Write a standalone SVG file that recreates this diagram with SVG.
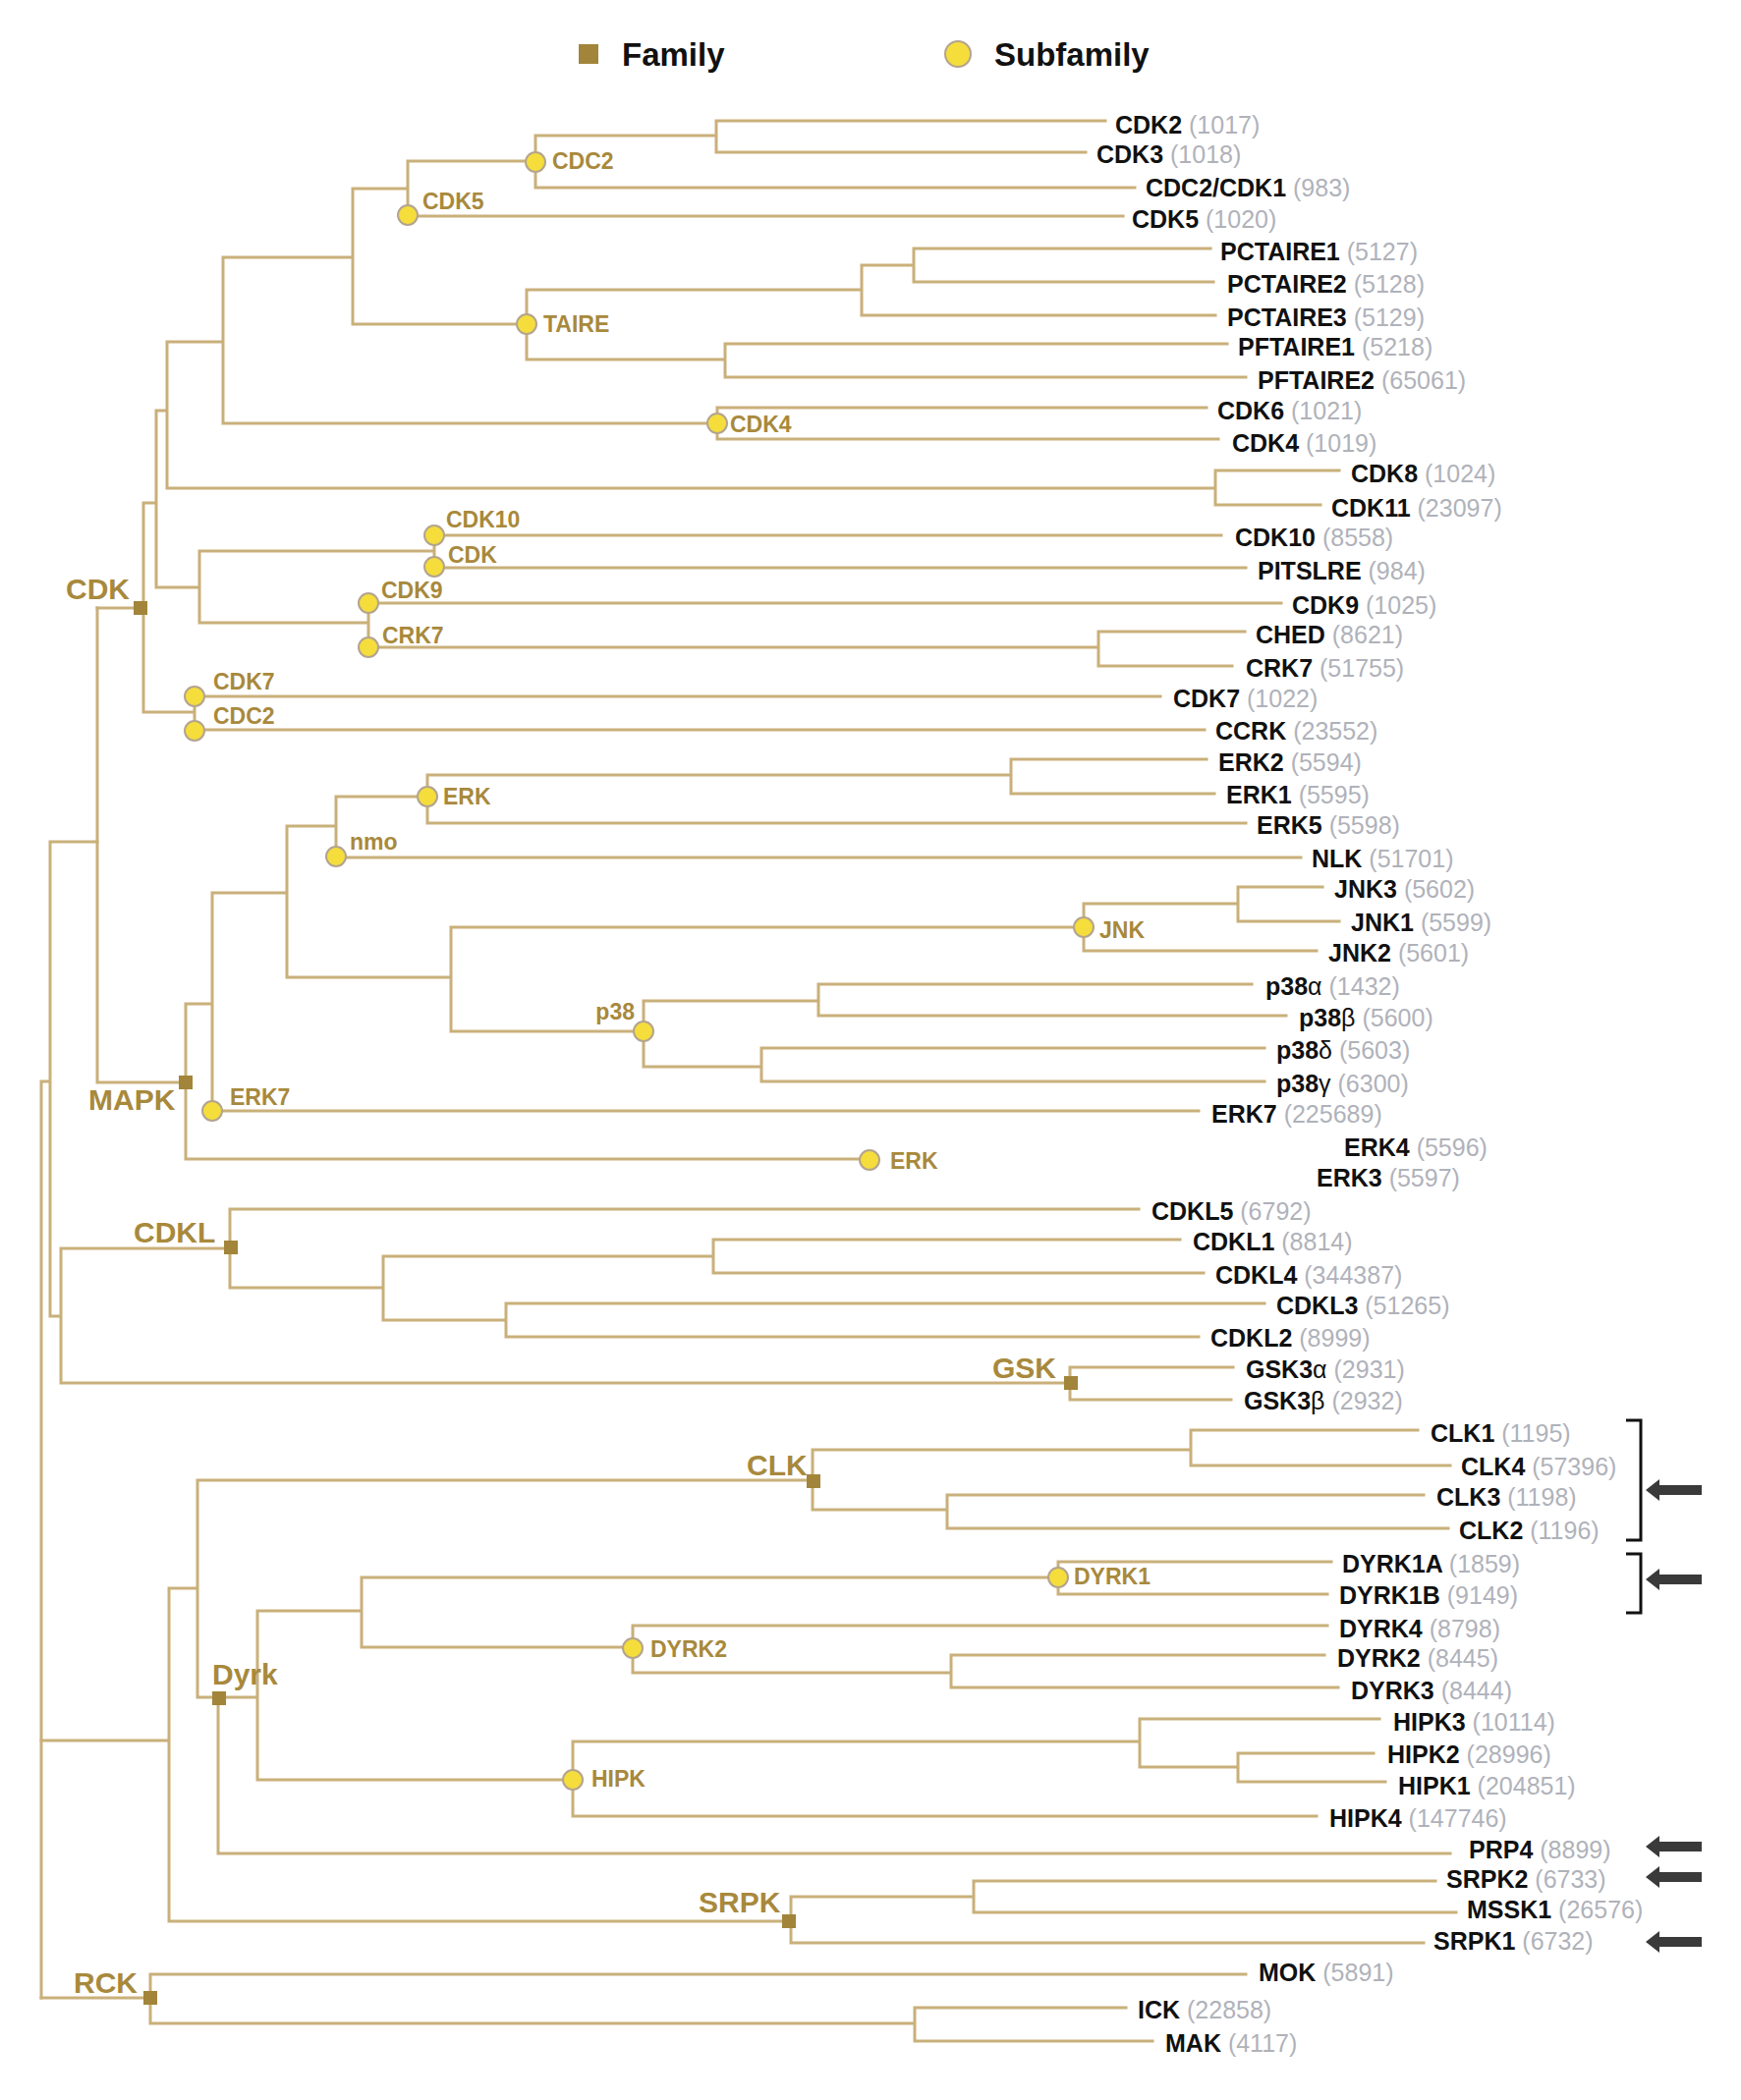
<svg xmlns="http://www.w3.org/2000/svg" width="1772" height="2138" viewBox="0 0 1772 2138">
<style>
.ln{stroke:#c9b07a;stroke-width:3;fill:none;stroke-linecap:square}
.sq{fill:#a2853a}
.ci{fill:#f5dd3c;stroke:#b3a48f;stroke-width:2}
.fl{font-family:"Liberation Sans",Arial,sans-serif;font-size:30px;font-weight:bold;fill:#a8893c}
.sl{font-family:"Liberation Sans",Arial,sans-serif;font-size:23px;font-weight:bold;fill:#a8893c}
.lf{font-family:"Liberation Sans",Arial,sans-serif;font-size:25px;font-weight:bold;fill:#111}
.nm{font-weight:normal;fill:#b0b2ba}
.gk{font-weight:normal}
.lg{font-family:"Liberation Sans",Arial,sans-serif;font-size:33px;font-weight:bold;fill:#111}
.ar{fill:#3a3a3a}
.br{stroke:#111;stroke-width:3;fill:none}
</style>
<rect width="1772" height="2138" fill="#fff"/>
<g id="legend">
<rect class="sq" x="589" y="45" width="20" height="20"/>
<text class="lg" x="633" y="67">Family</text>
<circle class="ci" cx="975" cy="55" r="13"/>
<text class="lg" x="1012" y="67">Subfamily</text>
</g>
<g id="connectors">
<path class="ln" d="M729 123V155M729 123H1125M729 155H1105M545 138H729M545 138V191M545 191H1155M415 164H545M415 164V220M415 220H1143M359 192H415M359 192V330M359 330H536M536 295V366M536 295H877M877 270V321M877 270H930M930 253V287M930 253H1232M930 287H1235M877 321H1237M536 366H738M738 350V384M738 350H1249M738 384H1268M227 262H359M227 262V431M227 431H730M730 415V447M730 415H1228M730 447H1240M170 348H227M170 348V497M170 497H1237M1237 479V514M1237 479H1363M1237 514H1344M159 418H170M159 418V598M159 598H203M203 561V634M203 561H442M442 545V578M442 545H1243M442 578H1268M203 634H375M375 614V659M375 614H1304M375 659H1118M1118 643V678M1118 643H1267M1118 678H1254M146 512H159M146 512V725M146 725H198M198 709V743M198 709H1181M198 743H1226M99 619H146"/>
<path class="ln" d="M99 619V1102M99 1102H189M189 1022V1180M189 1022H216M216 909V1131M216 1131H1220M216 909H292M292 841V995M292 841H342M342 811V873M342 873H1324M342 811H435M435 789V838M435 789H1029M1029 773V808M1029 773H1228M1029 808H1236M435 838H1268M292 995H459M459 944V1050M459 944H1103M1103 920V968M1103 920H1260M1260 903V938M1260 903H1346M1260 938H1363M1103 968H1340M459 1050H655M655 1019V1086M655 1019H833M833 1002V1034M833 1002H1274M833 1034H1309M655 1086H775M775 1067V1101M775 1067H1287M775 1101H1287M189 1180H885"/>
<path class="ln" d="M51 857H99M51 857V1340M42 1101H51M42 1101V2034M51 1340H62M62 1271V1408M62 1271H234M234 1231V1311M234 1231H1159M234 1311H390M390 1279V1344M390 1279H726M726 1262V1296M726 1262H1201M726 1296H1225M390 1344H515M515 1327V1361M515 1327H1287M515 1361H1220M62 1408H1089M1089 1392V1425M1089 1392H1255M1089 1425H1253"/>
<path class="ln" d="M42 1772H172M172 1617V1956M172 1617H201M201 1507V1728M201 1507H827M827 1476V1537M827 1476H1212M1212 1456V1492M1212 1456H1443M1212 1492H1476M827 1537H964M964 1522V1556M964 1522H1449M964 1556H1474M201 1728H262M222 1728V1887M222 1887H1476M262 1640V1812M262 1640H368M368 1606V1677M368 1606H1077M1077 1590V1623M1077 1590H1355M1077 1623H1351M368 1677H644M644 1655V1703M644 1655H1351M644 1703H968M968 1685V1718M968 1685H1348M968 1718H1362M262 1812H583M583 1773V1849M583 1773H1160M1160 1750V1799M1160 1750H1404M1160 1799H1260M1260 1785V1814M1260 1785H1398M1260 1814H1410M583 1849H1340M172 1956H805M805 1931V1978M805 1931H991M991 1915V1947M991 1915H1461M991 1947H1482M805 1978H1449M42 2034H153M153 2010V2060M153 2010H1268M153 2060H931M931 2044V2078M931 2044H1146M931 2078H1173"/>
</g>
<g id="fam-CDK"><rect class="sq" x="136" y="612" width="14" height="14"/><text class="fl" x="67" y="610">CDK</text></g>
<g id="fam-MAPK"><rect class="sq" x="182" y="1095" width="14" height="14"/><text class="fl" x="90" y="1130">MAPK</text></g>
<g id="fam-CDKL"><rect class="sq" x="228" y="1263" width="14" height="14"/><text class="fl" x="136" y="1265">CDKL</text></g>
<g id="fam-GSK"><rect class="sq" x="1083" y="1401" width="14" height="14"/><text class="fl" x="1010" y="1403">GSK</text></g>
<g id="fam-CLK"><rect class="sq" x="821" y="1501" width="14" height="14"/><text class="fl" x="760" y="1502">CLK</text></g>
<g id="fam-Dyrk"><rect class="sq" x="216" y="1722" width="14" height="14"/><text class="fl" x="216" y="1715">Dyrk</text></g>
<g id="fam-SRPK"><rect class="sq" x="796" y="1949" width="14" height="14"/><text class="fl" x="711" y="1947">SRPK</text></g>
<g id="fam-RCK"><rect class="sq" x="146" y="2027" width="14" height="14"/><text class="fl" x="75" y="2029">RCK</text></g>
<g id="sub-CDC2a"><circle class="ci" cx="545" cy="165" r="10"/><text class="sl" x="562" y="172">CDC2</text></g>
<g id="sub-CDK5"><circle class="ci" cx="415" cy="219" r="10"/><text class="sl" x="430" y="213">CDK5</text></g>
<g id="sub-TAIRE"><circle class="ci" cx="536" cy="330" r="10"/><text class="sl" x="553" y="338">TAIRE</text></g>
<g id="sub-CDK4"><circle class="ci" cx="730" cy="431" r="10"/><text class="sl" x="743" y="440">CDK4</text></g>
<g id="sub-CDK10"><circle class="ci" cx="442" cy="545" r="10"/><text class="sl" x="454" y="537">CDK10</text></g>
<g id="sub-CDK"><circle class="ci" cx="442" cy="577" r="10"/><text class="sl" x="456" y="573">CDK</text></g>
<g id="sub-CDK9"><circle class="ci" cx="375" cy="614" r="10"/><text class="sl" x="388" y="609">CDK9</text></g>
<g id="sub-CRK7"><circle class="ci" cx="375" cy="659" r="10"/><text class="sl" x="389" y="655">CRK7</text></g>
<g id="sub-CDK7"><circle class="ci" cx="198" cy="709" r="10"/><text class="sl" x="217" y="702">CDK7</text></g>
<g id="sub-CDC2b"><circle class="ci" cx="198" cy="744" r="10"/><text class="sl" x="217" y="737">CDC2</text></g>
<g id="sub-ERKa"><circle class="ci" cx="435" cy="811" r="10"/><text class="sl" x="451" y="819">ERK</text></g>
<g id="sub-nmo"><circle class="ci" cx="342" cy="872" r="10"/><text class="sl" x="356" y="865">nmo</text></g>
<g id="sub-JNK"><circle class="ci" cx="1103" cy="944" r="10"/><text class="sl" x="1119" y="955">JNK</text></g>
<g id="sub-p38"><circle class="ci" cx="655" cy="1050" r="10"/><text class="sl" x="646" y="1038" text-anchor="end">p38</text></g>
<g id="sub-ERK7"><circle class="ci" cx="216" cy="1131" r="10"/><text class="sl" x="234" y="1125">ERK7</text></g>
<g id="sub-ERKb"><circle class="ci" cx="885" cy="1181" r="10"/><text class="sl" x="906" y="1190">ERK</text></g>
<g id="sub-DYRK1"><circle class="ci" cx="1077" cy="1606" r="10"/><text class="sl" x="1093" y="1613">DYRK1</text></g>
<g id="sub-DYRK2"><circle class="ci" cx="644" cy="1678" r="10"/><text class="sl" x="662" y="1687">DYRK2</text></g>
<g id="sub-HIPK"><circle class="ci" cx="583" cy="1812" r="10"/><text class="sl" x="602" y="1819">HIPK</text></g>
<g id="leaves" class="lf">
<g id="CDK2"><text x="1135" y="136">CDK2 <tspan class="nm">(1017)</tspan></text></g>
<g id="CDK3"><text x="1116" y="166">CDK3 <tspan class="nm">(1018)</tspan></text></g>
<g id="CDC2CDK1"><text x="1166" y="200">CDC2/CDK1 <tspan class="nm">(983)</tspan></text></g>
<g id="CDK5"><text x="1152" y="232">CDK5 <tspan class="nm">(1020)</tspan></text></g>
<g id="PCTAIRE1"><text x="1242" y="265">PCTAIRE1 <tspan class="nm">(5127)</tspan></text></g>
<g id="PCTAIRE2"><text x="1249" y="298">PCTAIRE2 <tspan class="nm">(5128)</tspan></text></g>
<g id="PCTAIRE3"><text x="1249" y="332">PCTAIRE3 <tspan class="nm">(5129)</tspan></text></g>
<g id="PFTAIRE1"><text x="1260" y="362">PFTAIRE1 <tspan class="nm">(5218)</tspan></text></g>
<g id="PFTAIRE2"><text x="1280" y="396">PFTAIRE2 <tspan class="nm">(65061)</tspan></text></g>
<g id="CDK6"><text x="1239" y="427">CDK6 <tspan class="nm">(1021)</tspan></text></g>
<g id="CDK4"><text x="1254" y="460">CDK4 <tspan class="nm">(1019)</tspan></text></g>
<g id="CDK8"><text x="1375" y="491">CDK8 <tspan class="nm">(1024)</tspan></text></g>
<g id="CDK11"><text x="1355" y="526">CDK11 <tspan class="nm">(23097)</tspan></text></g>
<g id="CDK10"><text x="1257" y="556">CDK10 <tspan class="nm">(8558)</tspan></text></g>
<g id="PITSLRE"><text x="1280" y="590">PITSLRE <tspan class="nm">(984)</tspan></text></g>
<g id="CDK9"><text x="1315" y="625">CDK9 <tspan class="nm">(1025)</tspan></text></g>
<g id="CHED"><text x="1278" y="655">CHED <tspan class="nm">(8621)</tspan></text></g>
<g id="CRK7"><text x="1268" y="689">CRK7 <tspan class="nm">(51755)</tspan></text></g>
<g id="CDK7"><text x="1194" y="720">CDK7 <tspan class="nm">(1022)</tspan></text></g>
<g id="CCRK"><text x="1237" y="753">CCRK <tspan class="nm">(23552)</tspan></text></g>
<g id="ERK2"><text x="1240" y="785">ERK2 <tspan class="nm">(5594)</tspan></text></g>
<g id="ERK1"><text x="1248" y="818">ERK1 <tspan class="nm">(5595)</tspan></text></g>
<g id="ERK5"><text x="1279" y="849">ERK5 <tspan class="nm">(5598)</tspan></text></g>
<g id="NLK"><text x="1335" y="883">NLK <tspan class="nm">(51701)</tspan></text></g>
<g id="JNK3"><text x="1358" y="914">JNK3 <tspan class="nm">(5602)</tspan></text></g>
<g id="JNK1"><text x="1375" y="948">JNK1 <tspan class="nm">(5599)</tspan></text></g>
<g id="JNK2"><text x="1352" y="979">JNK2 <tspan class="nm">(5601)</tspan></text></g>
<g id="p38a"><text x="1288" y="1013">p38<tspan class="gk">α</tspan> <tspan class="nm">(1432)</tspan></text></g>
<g id="p38b"><text x="1322" y="1045">p38<tspan class="gk">β</tspan> <tspan class="nm">(5600)</tspan></text></g>
<g id="p38d"><text x="1299" y="1078">p38<tspan class="gk">δ</tspan> <tspan class="nm">(5603)</tspan></text></g>
<g id="p38g"><text x="1299" y="1112">p38<tspan class="gk">γ</tspan> <tspan class="nm">(6300)</tspan></text></g>
<g id="ERK7"><text x="1233" y="1143">ERK7 <tspan class="nm">(225689)</tspan></text></g>
<g id="ERK4"><text x="1368" y="1177">ERK4 <tspan class="nm">(5596)</tspan></text></g>
<g id="ERK3"><text x="1340" y="1208">ERK3 <tspan class="nm">(5597)</tspan></text></g>
<g id="CDKL5"><text x="1172" y="1242">CDKL5 <tspan class="nm">(6792)</tspan></text></g>
<g id="CDKL1"><text x="1214" y="1273">CDKL1 <tspan class="nm">(8814)</tspan></text></g>
<g id="CDKL4"><text x="1237" y="1307">CDKL4 <tspan class="nm">(344387)</tspan></text></g>
<g id="CDKL3"><text x="1299" y="1338">CDKL3 <tspan class="nm">(51265)</tspan></text></g>
<g id="CDKL2"><text x="1232" y="1371">CDKL2 <tspan class="nm">(8999)</tspan></text></g>
<g id="GSK3a"><text x="1268" y="1403">GSK3<tspan class="gk">α</tspan> <tspan class="nm">(2931)</tspan></text></g>
<g id="GSK3b"><text x="1266" y="1435">GSK3<tspan class="gk">β</tspan> <tspan class="nm">(2932)</tspan></text></g>
<g id="CLK1"><text x="1456" y="1468">CLK1 <tspan class="nm">(1195)</tspan></text></g>
<g id="CLK4"><text x="1487" y="1502">CLK4 <tspan class="nm">(57396)</tspan></text></g>
<g id="CLK3"><text x="1462" y="1533">CLK3 <tspan class="nm">(1198)</tspan></text></g>
<g id="CLK2"><text x="1485" y="1567">CLK2 <tspan class="nm">(1196)</tspan></text></g>
<g id="DYRK1A"><text x="1366" y="1601">DYRK1A <tspan class="nm">(1859)</tspan></text></g>
<g id="DYRK1B"><text x="1363" y="1633">DYRK1B <tspan class="nm">(9149)</tspan></text></g>
<g id="DYRK4"><text x="1363" y="1667">DYRK4 <tspan class="nm">(8798)</tspan></text></g>
<g id="DYRK2"><text x="1361" y="1697">DYRK2 <tspan class="nm">(8445)</tspan></text></g>
<g id="DYRK3"><text x="1375" y="1730">DYRK3 <tspan class="nm">(8444)</tspan></text></g>
<g id="HIPK3"><text x="1418" y="1762">HIPK3 <tspan class="nm">(10114)</tspan></text></g>
<g id="HIPK2"><text x="1412" y="1795">HIPK2 <tspan class="nm">(28996)</tspan></text></g>
<g id="HIPK1"><text x="1423" y="1827">HIPK1 <tspan class="nm">(204851)</tspan></text></g>
<g id="HIPK4"><text x="1353" y="1860">HIPK4 <tspan class="nm">(147746)</tspan></text></g>
<g id="PRP4"><text x="1495" y="1892">PRP4 <tspan class="nm">(8899)</tspan></text></g>
<g id="SRPK2"><text x="1472" y="1922">SRPK2 <tspan class="nm">(6733)</tspan></text></g>
<g id="MSSK1"><text x="1493" y="1953">MSSK1 <tspan class="nm">(26576)</tspan></text></g>
<g id="SRPK1"><text x="1459" y="1985">SRPK1 <tspan class="nm">(6732)</tspan></text></g>
<g id="MOK"><text x="1281" y="2017">MOK <tspan class="nm">(5891)</tspan></text></g>
<g id="ICK"><text x="1158" y="2055">ICK <tspan class="nm">(22858)</tspan></text></g>
<g id="MAK"><text x="1186" y="2089">MAK <tspan class="nm">(4117)</tspan></text></g>
</g>
<g id="brackets">
<path class="br" d="M1655 1446H1670V1568H1655M1655 1582H1670V1642H1655"/>
</g>
<g id="arrows">
<polygon class="ar" points="1675,1517 1689,1506 1689,1512 1732,1512 1732,1522 1689,1522 1689,1528"/>
<polygon class="ar" points="1675,1608 1689,1597 1689,1603 1732,1603 1732,1613 1689,1613 1689,1619"/>
<polygon class="ar" points="1675,1880 1689,1869 1689,1875 1732,1875 1732,1885 1689,1885 1689,1891"/>
<polygon class="ar" points="1675,1911 1689,1900 1689,1906 1732,1906 1732,1916 1689,1916 1689,1922"/>
<polygon class="ar" points="1675,1977 1689,1966 1689,1972 1732,1972 1732,1982 1689,1982 1689,1988"/>
</g>
</svg>
